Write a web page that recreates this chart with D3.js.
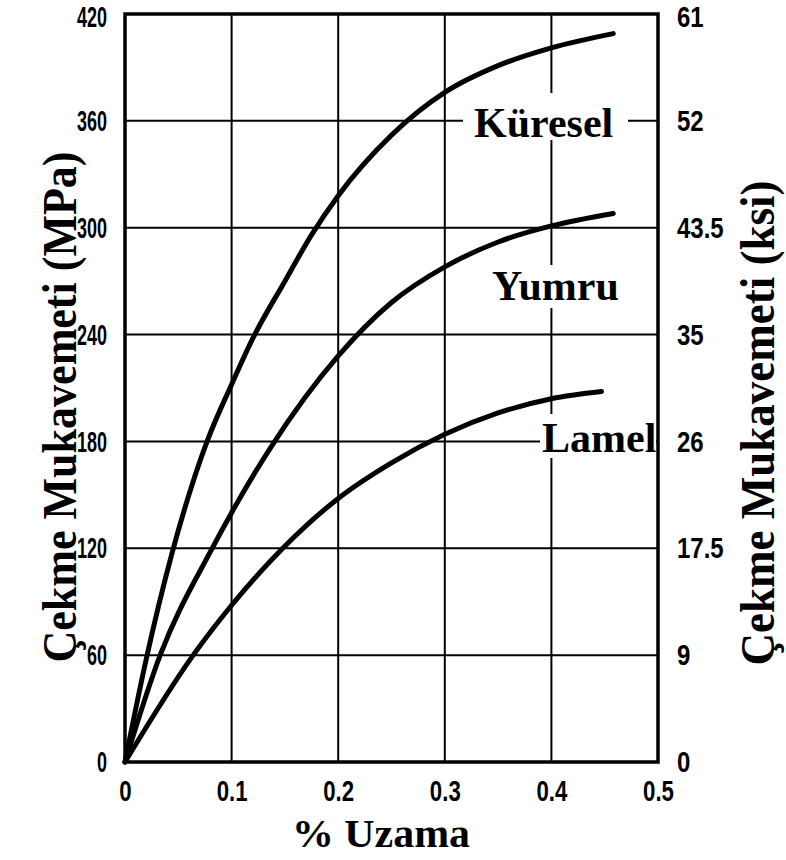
<!DOCTYPE html>
<html><head><meta charset="utf-8">
<script src="https://cdn.jsdelivr.net/npm/d3@7/dist/d3.min.js"></script>
<style>body{margin:0;background:#fff}</style>
</head><body>
<svg id="c" width="786" height="860"></svg>
<script>
// ---- data ----
const strainTicks = [0, 0.1, 0.2, 0.3, 0.4, 0.5];
const strainLabels = ["0", "0.1", "0.2", "0.3", "0.4", "0.5"];
const mpaTicks = [0, 60, 120, 180, 240, 300, 360, 420];
const ksiLabels = ["0", "9", "17.5", "26", "35", "43.5", "52", "61"];
const seriesNames = ["Küresel", "Yumru", "Lamel"];
const kureselX = [0, 0.02, 0.044, 0.077, 0.1, 0.12, 0.15, 0.175, 0.2, 0.25, 0.3, 0.35, 0.4, 0.458];
const kureselY = [0, 58, 117, 180, 212, 238, 270, 296, 318, 352, 376, 391, 401, 409];
const yumruX = [0, 0.033, 0.08, 0.1, 0.136, 0.2, 0.25, 0.3, 0.35, 0.4, 0.458];
const yumruY = [0, 60, 118, 140, 176, 228, 258, 278, 292, 301, 308];
const lamelX = [0, 0.064, 0.1, 0.148, 0.2, 0.25, 0.3, 0.35, 0.4, 0.447];
const lamelY = [0, 60, 88, 120, 148, 168, 184, 196, 204, 208];
const xTitle = "% Uzama";
const yTitleLeft = "Çekme Mukavemeti (MPa)";
const yTitleRight = "Çekme Mukavemeti (ksi)";

const series = [
  {name: seriesNames[0], xs: kureselX, ys: kureselY},
  {name: seriesNames[1], xs: yumruX, ys: yumruY},
  {name: seriesNames[2], xs: lamelX, ys: lamelY}
];

const svg = d3.select("#c");
const L = 125, R = 658, T = 14, B = 762;
const x = d3.scaleLinear().domain([0, 0.5]).range([L, R]);
const y = d3.scaleLinear().domain([0, 420]).range([B, T]);

const serif = "'Liberation Serif','Times New Roman',serif";
const sans = "'Liberation Sans',Arial,sans-serif";

// grid
const grid = svg.append("g").attr("stroke", "#000").attr("stroke-width", 2);
grid.selectAll("line.h").data(mpaTicks.filter(d => d > 0 && d < 420)).join("line")
  .attr("x1", L).attr("x2", R).attr("y1", d => y(d)).attr("y2", d => y(d));
grid.selectAll("line.v").data(strainTicks.filter(d => d > 0 && d < 0.5)).join("line")
  .attr("y1", T).attr("y2", B).attr("x1", d => x(d)).attr("x2", d => x(d));

// label boxes (white backgrounds hiding grid)
const labels = [
  {text: seriesNames[0], tx: 474, ty: 137, box: [463, 93, 628, 140]},
  {text: seriesNames[1], tx: 492, ty: 300, box: [485, 265, 630, 308]},
  {text: seriesNames[2], tx: 542, ty: 452, box: [540, 414, 656, 458]}
];
svg.append("g").selectAll("rect").data(labels).join("rect")
  .attr("x", d => d.box[0]).attr("y", d => d.box[1])
  .attr("width", d => d.box[2] - d.box[0]).attr("height", d => d.box[3] - d.box[1])
  .attr("fill", "#fff");
svg.append("g").selectAll("text").data(labels).join("text")
  .attr("x", d => d.tx).attr("y", d => d.ty)
  .attr("font-family", serif).attr("font-weight", "bold").attr("font-size", 42)
  .attr("fill", "#000").text(d => d.text);

// curves
const line = d3.line().x(d => x(d[0])).y(d => y(d[1])).curve(d3.curveMonotoneX);
svg.append("g").selectAll("path").data(series).join("path")
  .attr("d", s => line(s.xs.map((v, i) => [v, s.ys[i]])))
  .attr("fill", "none").attr("stroke", "#000").attr("stroke-width", 5)
  .attr("stroke-linecap", "round").attr("stroke-linejoin", "round");

// frame
svg.append("rect").attr("x", L).attr("y", T).attr("width", R - L).attr("height", B - T)
  .attr("fill", "none").attr("stroke", "#000").attr("stroke-width", 3.5);

function condense(sel, k) {
  sel.selectAll(".tick text").each(function () {
    const w = this.getComputedTextLength();
    d3.select(this).attr("textLength", w * k).attr("lengthAdjust", "spacingAndGlyphs");
  });
}

// axes
const gl = svg.append("g").attr("transform", `translate(${L},0)`)
  .call(d3.axisLeft(y).tickValues(mpaTicks).tickSize(0).tickPadding(18).tickFormat(d => String(d)));
gl.select(".domain").remove();
gl.selectAll("text").attr("font-family", sans).attr("font-weight", "bold").attr("font-size", 30).attr("fill", "#000");
condense(gl, 0.6);
gl.selectAll(".tick").filter(d => d === 420).select("text").attr("dy", "0.42em");

const gr = svg.append("g").attr("transform", `translate(${R},0)`)
  .call(d3.axisRight(y).tickValues(mpaTicks).tickSize(0).tickPadding(19).tickFormat((d, i) => ksiLabels[i]));
gr.select(".domain").remove();
gr.selectAll("text").attr("font-family", sans).attr("font-weight", "bold").attr("font-size", 30).attr("fill", "#000");
condense(gr, 0.8);
gr.selectAll(".tick").filter(d => d === 420).select("text").attr("dy", "0.42em");

const gb = svg.append("g").attr("transform", `translate(0,${B})`)
  .call(d3.axisBottom(x).tickValues(strainTicks).tickSize(0).tickPadding(18).tickFormat((d, i) => strainLabels[i]));
gb.select(".domain").remove();
gb.selectAll("text").attr("font-family", sans).attr("font-weight", "bold").attr("font-size", 30).attr("fill", "#000");
condense(gb, 0.74);

// titles
svg.append("text").attr("x", 381).attr("y", 847).attr("text-anchor", "middle")
  .attr("font-family", serif).attr("font-weight", "bold").attr("font-size", 41)
  .attr("textLength", 178).attr("lengthAdjust", "spacingAndGlyphs").text(xTitle);
svg.append("text").attr("transform", "translate(76,407) rotate(-90)").attr("text-anchor", "middle")
  .attr("font-family", serif).attr("font-weight", "bold").attr("font-size", 48)
  .attr("textLength", 511).attr("lengthAdjust", "spacingAndGlyphs").text(yTitleLeft);
svg.append("text").attr("transform", "translate(774,423) rotate(-90)").attr("text-anchor", "middle")
  .attr("font-family", serif).attr("font-weight", "bold").attr("font-size", 48)
  .attr("textLength", 485).attr("lengthAdjust", "spacingAndGlyphs").text(yTitleRight);
</script>
</body></html>
